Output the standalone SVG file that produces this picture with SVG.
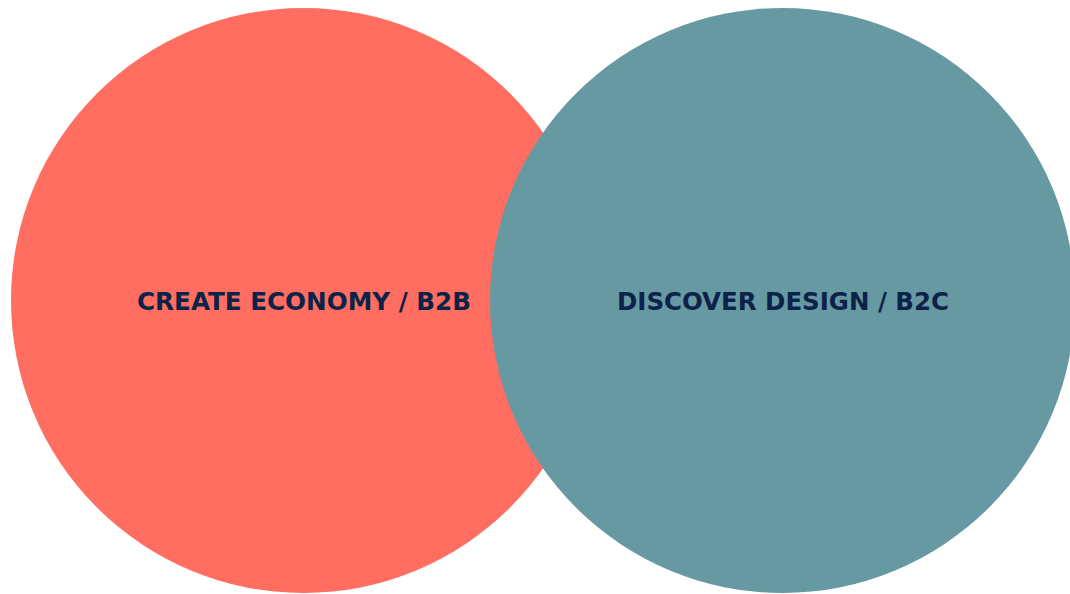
<svg xmlns="http://www.w3.org/2000/svg" width="1070" height="594" viewBox="0 0 1070 594">
<style>
.lbl{font-family:"DejaVu Sans Condensed","DejaVu Sans","Liberation Sans",sans-serif;font-weight:bold;font-size:24px;fill:#0B2249;text-anchor:middle;}
</style>
<rect width="1070" height="594" fill="#ffffff"/>
<g id="b2b">
<circle cx="303.5" cy="300.5" r="292.5" fill="#FF6E60"/>
<text class="lbl" x="304" y="310" textLength="334" lengthAdjust="spacingAndGlyphs">CREATE ECONOMY / B2B</text>
</g>
<g id="b2c">
<circle cx="782.5" cy="300.5" r="292.5" fill="#6799A3"/>
<text class="lbl" x="783" y="310" textLength="332" lengthAdjust="spacingAndGlyphs">DISCOVER DESIGN / B2C</text>
</g>
<g id="connectors"/>
</svg>
